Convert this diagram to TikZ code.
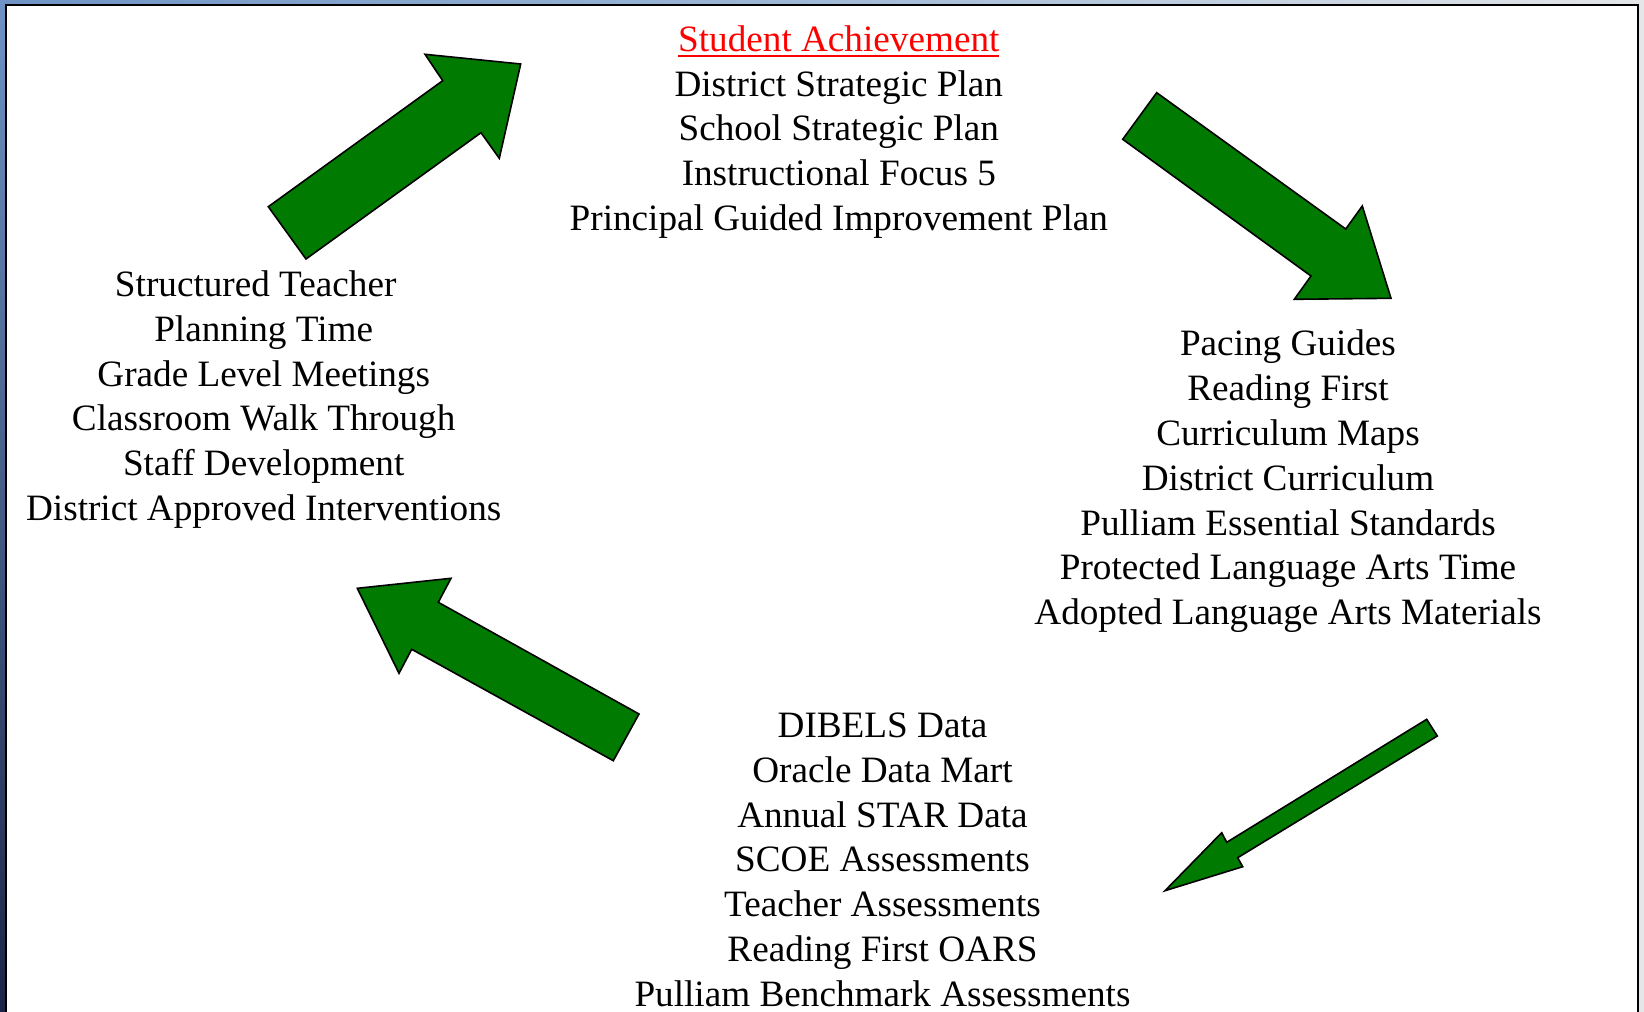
\documentclass[tikz,border=0pt]{standalone}
\usepackage{fontspec}
\setmainfont{Liberation Serif}
\definecolor{arrowgreen}{RGB}{0,122,0}
\definecolor{framegrey}{RGB}{228,230,232}
\definecolor{stripblue}{RGB}{110,147,196}
\definecolor{stripnavy}{RGB}{27,37,70}
\definecolor{stripmid}{RGB}{160,185,214}
\newcommand\myredul[1]{\setbox0\hbox{#1}\makebox[0pt][l]{\rule[-2.8pt]{\wd0}{1pt}}\box0}
\begin{document}
\begin{tikzpicture}[x=0.5pt,y=-0.5pt,
  blockarrow/.style={fill=arrowgreen,draw=black,line width=0.8pt,line join=miter},
  blocktext/.style={align=center,anchor=base,inner sep=0pt,
    font=\fontsize{18.6pt}{22.4pt}\selectfont}]
\useasboundingbox (0,0) rectangle (1644,1012);
% background outside the frame
\fill[framegrey] (0,0) rectangle (1644,1012);
\shade[left color=stripblue,right color=framegrey,middle color=stripmid] (0,0) rectangle (1644,5);
\shade[top color=stripblue,bottom color=stripnavy] (0,0) rectangle (6,1012);
% white slide area with frame
\fill[white] (6,5) rectangle (1638,1014);
\draw[line width=1pt] (6,1014) -- (6,5) -- (1638,5) -- (1638,1014);

% block arrows
\draw[blockarrow] (268.3,206.7) -- (442.7,80.7) -- (425,54.3) -- (520.7,64) -- (499.3,158.3) -- (481,132.7) -- (306,259) -- cycle;
\draw[blockarrow] (1156.7,92.7) -- (1345.7,229) -- (1362.3,206) -- (1391,298.3) -- (1294.3,299.3) -- (1311,276) -- (1122.7,139.3) -- cycle;
\draw[blockarrow] (639,714) -- (438.3,602.3) -- (451,578.3) -- (357.3,588.3) -- (399,673.3) -- (411.7,649.3) -- (613.3,760.7) -- cycle;
\draw[blockarrow] (1426.7,719.3) -- (1437.3,736) -- (1237.7,857.7) -- (1242.7,866.7) -- (1165,890.7) -- (1221.7,832.7) -- (1226.7,842.3) -- cycle;

% text blocks (anchor = baseline of last line)
\node[blocktext] (topblock) at (838.8,230.5) {\textcolor{red}{\myredul{Student Achievement}}\\District Strategic Plan\\School Strategic Plan\\Instructional Focus 5\\Principal Guided Improvement Plan};
\node[blocktext] (leftblock) at (263.7,520.5) {Structured Teacher\hspace*{8pt}\\Planning Time\\Grade Level Meetings\\Classroom Walk Through\\Staff Development\\District Approved Interventions};
\node[blocktext] (rightblock) at (1288,624.6) {Pacing Guides\\Reading First\\Curriculum Maps\\District Curriculum\\Pulliam Essential Standards\\Protected Language Arts Time\\Adopted Language Arts Materials};
\node[blocktext] (bottomblock) at (882.5,1006.2) {DIBELS Data\\Oracle Data Mart\\Annual STAR Data\\SCOE Assessments\\Teacher Assessments\\Reading First OARS\\Pulliam Benchmark Assessments};
\end{tikzpicture}
\end{document}
